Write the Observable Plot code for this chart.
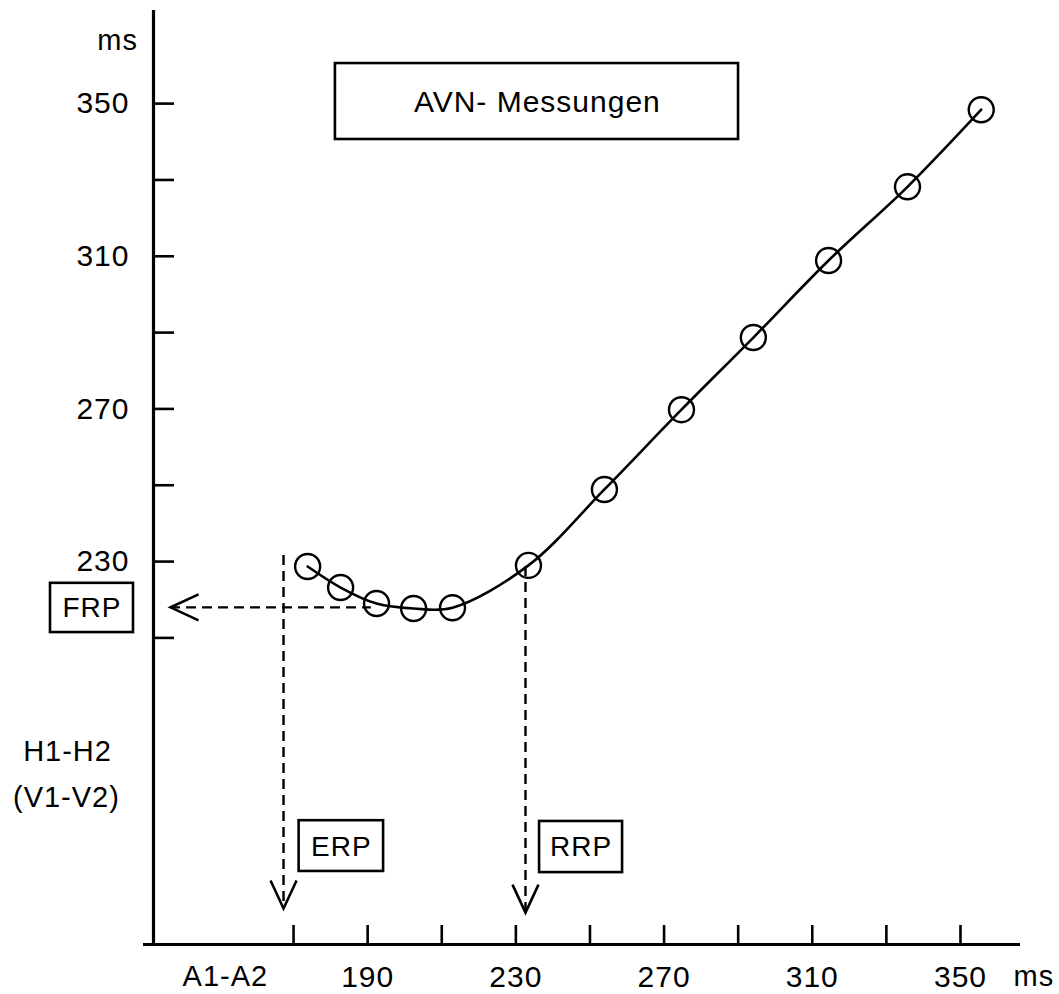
<!DOCTYPE html>
<html><head><meta charset="utf-8">
<script src="https://cdn.jsdelivr.net/npm/d3@7"></script>
<script src="https://cdn.jsdelivr.net/npm/@observablehq/plot@0.6"></script>
<style>body{margin:0;background:#fff}</style>
</head><body><div id="chart"></div>
<script>
// AVN measurements: A1-A2 coupling interval (x) vs H1-H2 (V1-V2) response (y), ms
const a1a2 = [173.8, 182.7, 192.4, 202.4, 212.9, 233.4, 253.9, 274.7, 294.1, 314.4, 335.7, 355.6];
const h1h2 = [228.7, 223.2, 219.0, 217.7, 217.9, 229.0, 248.9, 269.8, 288.7, 308.9, 328.2, 348.4];

const xTicks = [170, 190, 210, 230, 250, 270, 290, 310, 330, 350];
const xTickLabels = [190, 230, 270, 310, 350];
const yTicks = [210, 230, 250, 270, 290, 310, 330, 350];
const yTickLabels = [230, 270, 310, 350];

// refractory periods (ms)
const frpValue = 218.0;
const erpValue = 167.3;
const rrpValue = 232.6;

const xMin = 132.2, xMax = 366.2;
const yMin = 129.66, yMax = 374.4;

const points = a1a2.map((x, i) => ({x, y: h1h2[i]}));

const chevron = {draw(ctx) { ctx.moveTo(-13, -28); ctx.lineTo(0, 0); ctx.lineTo(13, -28); }};

const boxes = [
  {label: "AVN- Messungen", size: 30, x1: 181.3, x2: 290.1, y1: 340.6, y2: 360.5, tx: 235.8, ty: 350.3},
  {label: "FRP", size: 28, x1: 104.4, x2: 126.8, y1: 211.4, y2: 224.3, tx: 115.6, ty: 217.8},
  {label: "ERP", size: 28, x1: 171.5, x2: 194.3, y1: 148.8, y2: 162.1, tx: 182.9, ty: 155.3},
  {label: "RRP", size: 28, x1: 236.4, x2: 258.8, y1: 148.5, y2: 161.9, tx: 247.6, ty: 155.2}
];

const font = "'Liberation Sans', Arial, Helvetica, sans-serif";
const dash = {strokeDasharray: "10,6", strokeWidth: 2.4};

const chart = Plot.plot({
  width: 1059,
  height: 994,
  marginLeft: 153,
  marginRight: 39,
  marginTop: 10,
  marginBottom: 50,
  x: {domain: [xMin, xMax]},
  y: {domain: [yMin, yMax]},
  style: {fontFamily: font, fontSize: "29px", letterSpacing: "1px", color: "black", background: "white"},
  marks: [
    // axis lines
    Plot.ruleX([xMin], {strokeWidth: 3.2}),
    Plot.ruleY([yMin], {x1: 129.5, x2: xMax, strokeWidth: 3.2}),
    Plot.axisY({ticks: yTicks, tickSize: 21, dx: 21, tickPadding: 24, strokeWidth: 2.6,
      tickFormat: d => yTickLabels.includes(d) ? String(d) : "", fontSize: 30, label: null}),
    Plot.axisX({ticks: xTicks, tickSize: 19, dy: -19, tickPadding: 21, strokeWidth: 2.6,
      tickFormat: d => xTickLabels.includes(d) ? String(d) : "", fontSize: 30, label: null}),
    // dashed guides
    Plot.ruleY([frpValue], {x1: 136.8, x2: 191.0, ...dash}),
    Plot.ruleX([erpValue], {y1: 231.6, y2: 139.1, ...dash}),
    Plot.ruleX([rrpValue], {y1: 228.7, y2: 138.0, ...dash}),
    // arrow heads
    Plot.dot([{x: 136.8, y: frpValue, r: 90}, {x: erpValue, y: 139.1, r: 0}, {x: rrpValue, y: 138.0, r: 0}],
      {x: "x", y: "y", rotate: "r", symbol: chevron, fill: "none", stroke: "black", strokeWidth: 2.6}),
    // curve and measurements
    Plot.line(points, {x: "x", y: "y", curve: "catmull-rom", strokeWidth: 2.6}),
    Plot.dot(points, {x: "x", y: "y", r: 12.5, fill: "none", stroke: "black", strokeWidth: 2.4}),
    // boxed labels
    Plot.rect(boxes, {x1: "x1", x2: "x2", y1: "y1", y2: "y2", fill: "white", stroke: "black", strokeWidth: 2.6}),
    Plot.text(boxes.slice(0, 1), {x: "tx", y: "ty", text: "label", fontSize: 30}),
    Plot.text(boxes.slice(1), {x: "tx", y: "ty", text: "label", fontSize: 28}),
    // axis captions
    Plot.text(["ms"], {x: 122.5, y: 366.5, fontSize: 29}),
    Plot.text(["ms"], {x: 369.8, y: 121.3, fontSize: 29}),
    Plot.text(["A1-A2"], {x: 151.6, y: 121.3, fontSize: 29}),
    Plot.text(["H1-H2"], {x: 109.0, y: 180.2, fontSize: 29}),
    Plot.text(["(V1-V2)"], {x: 108.7, y: 168.2, fontSize: 29})
  ]
});
document.getElementById("chart").appendChild(chart);
</script>
</body></html>
